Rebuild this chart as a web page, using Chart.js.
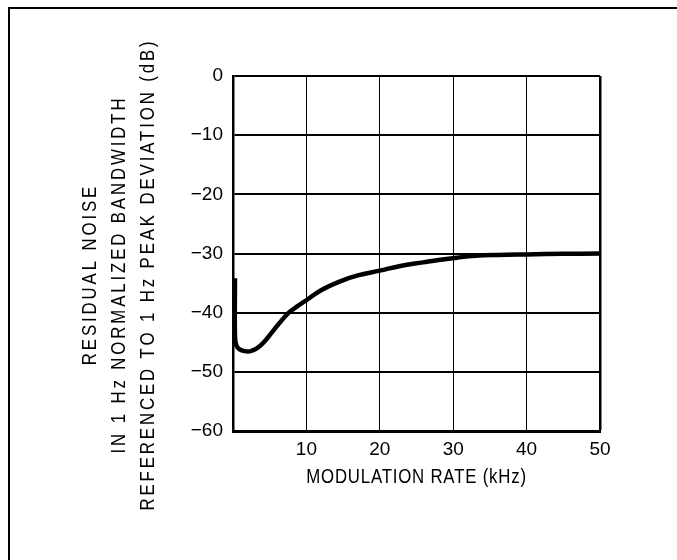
<!DOCTYPE html>
<html>
<head>
<meta charset="utf-8">
<script src="https://cdn.jsdelivr.net/npm/chart.js@4/dist/chart.umd.min.js"></script>
<style>
  html, body { margin: 0; padding: 0; background: #fff; }
  canvas { display: block; }
</style>
</head>
<body>
<canvas id="c" width="677" height="560"></canvas>
<script>
// ---- data ----
const modulationRate = [0.27, 0.27, 0.45, 0.9, 1.6, 2.4, 3.3, 4.2, 5.2, 6.3, 7.6, 8.8, 10, 12, 14.6, 17, 20, 22.8, 25.9, 28, 30.5, 33, 36, 40, 45, 50];
const residualNoise  = [-34.2, -44.0, -45.5, -46.2, -46.5, -46.5, -46.0, -45.0, -43.5, -41.8, -40.0, -38.9, -37.9, -36.2, -34.7, -33.7, -32.9, -32.1, -31.5, -31.1, -30.7, -30.4, -30.25, -30.15, -30.05, -30.0];

const xTickValues = [0, 10, 20, 30, 40, 50];
const xTickLabels = ['', '10', '20', '30', '40', '50'];
const yTickValues = [0, -10, -20, -30, -40, -50, -60];
const yTickLabels = ['0', '\u221210', '\u221220', '\u221230', '\u221240', '\u221250', '\u221260'];

const xTitle = 'MODULATION RATE (kHz)';
const yTitleLines = ['RESIDUAL NOISE', 'IN 1 Hz NORMALIZED BANDWIDTH', 'REFERENCED TO 1 Hz PEAK DEVIATION (dB)'];

const FONT = "'Liberation Sans', Arial, sans-serif";

const decor = {
  id: 'decor',
  beforeDraw(chart) {
    const ctx = chart.ctx;
    ctx.save();
    ctx.fillStyle = '#fff';
    ctx.fillRect(0, 0, chart.width, chart.height);
    ctx.strokeStyle = '#000';
    ctx.lineWidth = 2;
    ctx.beginPath();
    ctx.moveTo(9, chart.height);
    ctx.lineTo(9, 8);
    ctx.lineTo(chart.width, 8);
    ctx.stroke();
    ctx.restore();
  },
  afterDraw(chart) {
    const ctx = chart.ctx;
    const a = chart.chartArea;
    const sx = 0.8;
    ctx.save();
    ctx.fillStyle = '#000';
    ctx.textAlign = 'center';
    ctx.textBaseline = 'middle';
    ctx.font = '21px ' + FONT;

    // x title, condensed
    ctx.save();
    ctx.letterSpacing = '1px';
    ctx.translate((a.left + a.right) / 2, a.bottom + 46);
    ctx.scale(sx, 1);
    ctx.fillText(xTitle, 0, 0);
    ctx.restore();

    // y title (rotated), condensed with letter spacing
    ctx.letterSpacing = '3.6px';
    const cy = (a.top + a.bottom) / 2 + 21;
    const xs = [a.left - 143, a.left - 114, a.left - 85];
    yTitleLines.forEach((t, i) => {
      ctx.save();
      ctx.translate(xs[i], cy);
      ctx.rotate(-Math.PI / 2);
      ctx.scale(sx, 1);
      ctx.fillText(t, 0, 0);
      ctx.restore();
    });
    ctx.restore();
  }
};

new Chart(document.getElementById('c'), {
  type: 'line',
  data: {
    datasets: [{
      data: modulationRate.map((x, i) => ({ x: x, y: residualNoise[i] })),
      borderColor: '#000',
      borderWidth: 4.5,
      pointRadius: 0,
      tension: 0.4,
      fill: false,
      borderJoinStyle: 'round'
    }]
  },
  options: {
    responsive: false,
    devicePixelRatio: 1,
    animation: false,
    layout: { padding: { left: 0, top: 76, right: 77, bottom: 0 } },
    plugins: { legend: { display: false }, tooltip: { enabled: false } },
    scales: {
      x: {
        type: 'linear',
        min: 0, max: 50,
        afterBuildTicks: (s) => { s.ticks = xTickValues.map(v => ({ value: v })); },
        afterFit: (s) => { s.height = 129; },
        border: { display: true, color: '#000', width: 3 },
        grid: {
          color: '#000',
          lineWidth: (c) => (c.tick && c.tick.value === 50 ? 2.5 : 1),
          drawTicks: false
        },
        ticks: {
          padding: 7,
          color: '#000',
          font: { family: FONT, size: 19 },
          maxRotation: 0,
          callback: (v) => xTickLabels[xTickValues.indexOf(v)]
        }
      },
      y: {
        type: 'linear',
        min: -60, max: 0,
        afterBuildTicks: (s) => { s.ticks = yTickValues.slice().reverse().map(v => ({ value: v })); },
        afterFit: (s) => { s.width = 233; },
        border: { display: true, color: '#000', width: 2.5 },
        grid: {
          color: '#000',
          lineWidth: 2,
          drawTicks: false
        },
        ticks: {
          padding: 10,
          color: '#000',
          font: { family: FONT, size: 19 },
          callback: (v) => yTickLabels[yTickValues.indexOf(v)]
        }
      }
    }
  },
  plugins: [decor]
});
</script>
</body>
</html>
